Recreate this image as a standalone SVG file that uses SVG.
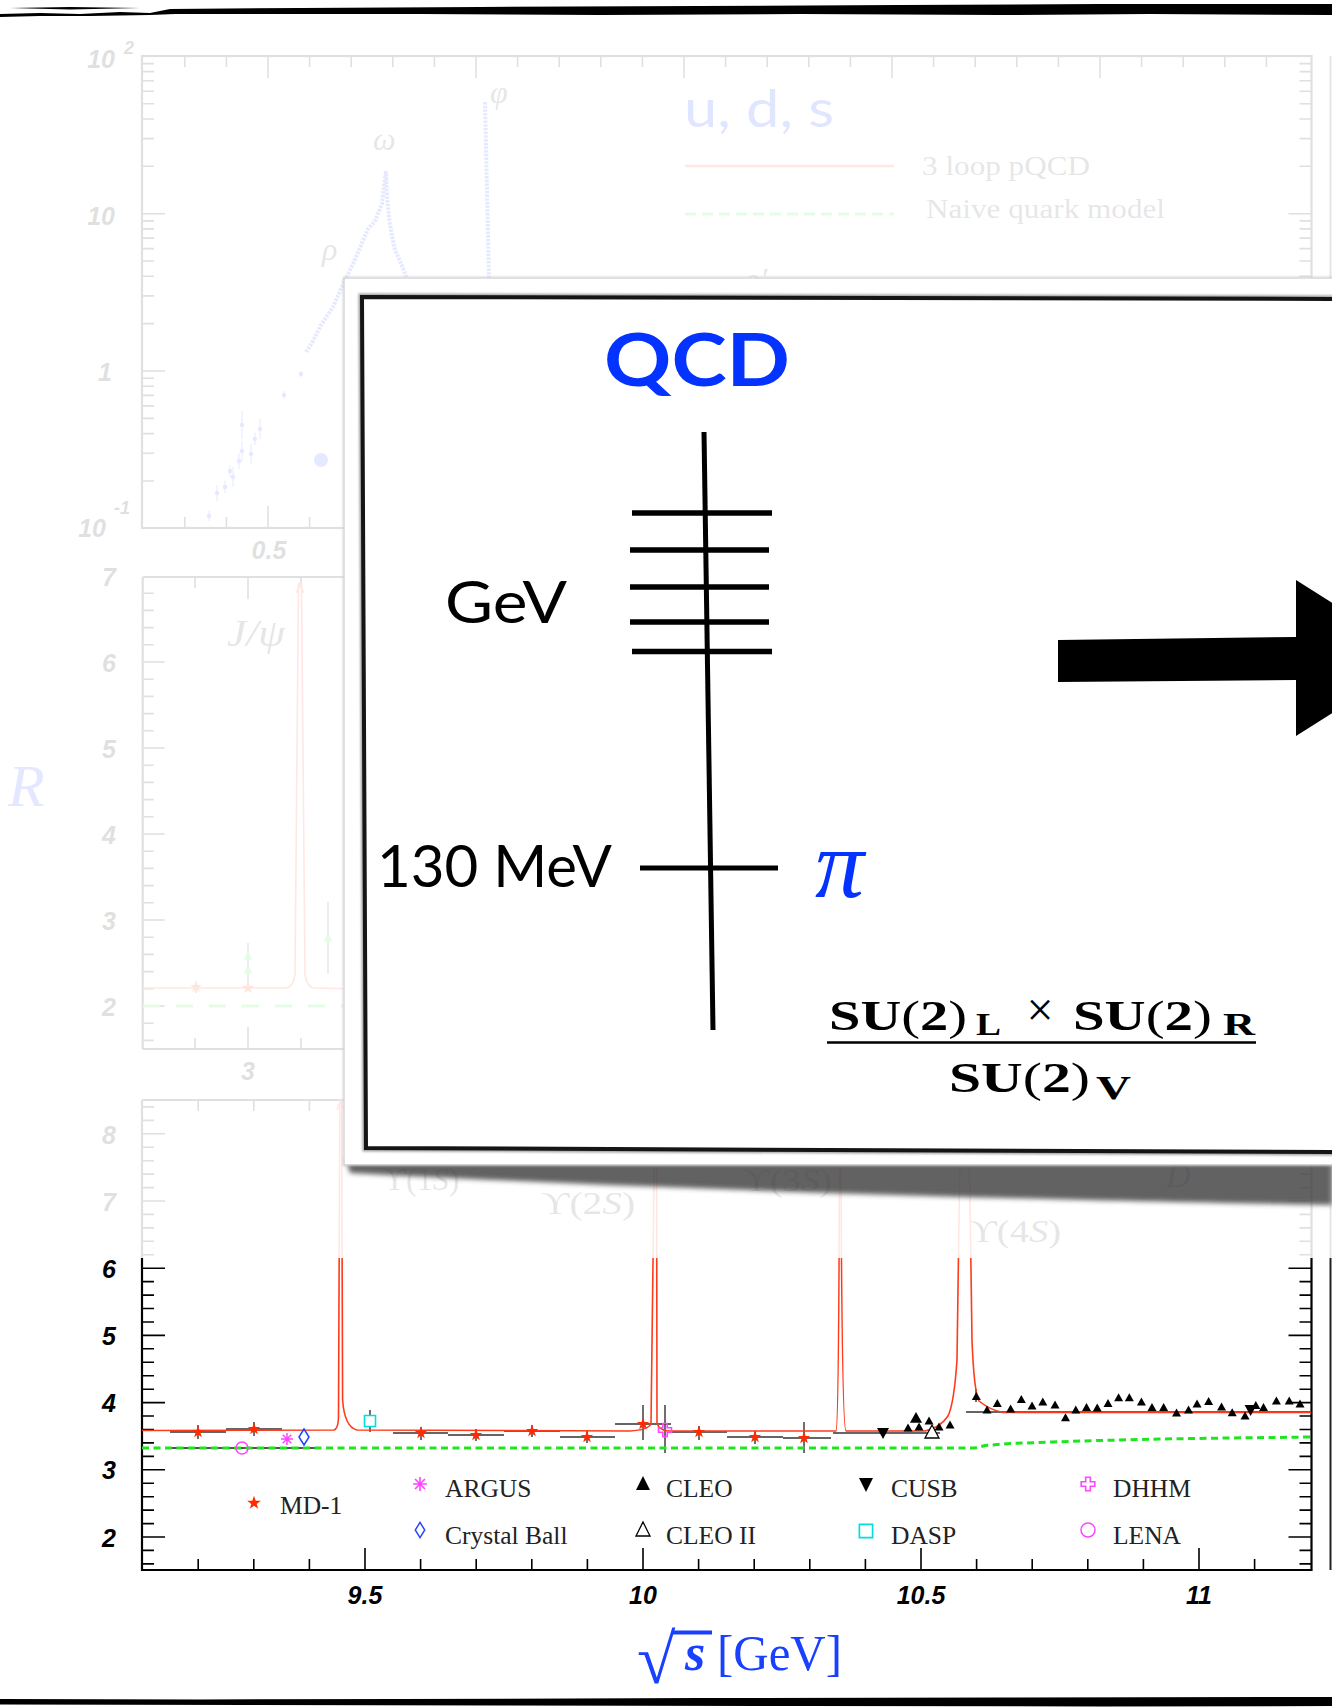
<svg xmlns="http://www.w3.org/2000/svg" width="1332" height="1708" viewBox="0 0 1332 1708">
<style>
.ax{stroke:#000;stroke-width:2.2;fill:none}
.tk{stroke:#000;stroke-width:1.6;fill:none}
.lbl{font-family:"Liberation Sans",Arial,sans-serif;font-weight:bold;font-style:italic;font-size:25px;fill:#000}
.leg{font-family:"Liberation Serif","Times New Roman",serif;font-size:25.5px;fill:#222}
.cm{font-family:"Liberation Serif","DejaVu Serif","Times New Roman",serif}
.gill{font-family:Lato,"Open Sans",sans-serif}
.red{stroke:#ff3a1a;stroke-width:1.6;fill:none}
.eb{stroke:#333;stroke-width:1.4;fill:none}
.blk{stroke:#000;fill:none;stroke-linecap:butt}
</style>
<defs>
<path id="st" d="M0,-6.5L1.53,-2.1L6.18,-2.01L2.47,0.8L3.82,5.26L0,2.6L-3.82,5.26L-2.47,0.8L-6.18,-2.01L-1.53,-2.1Z"/>
<path id="tu" d="M0,-4.5L4.5,3.5H-4.5Z"/>
<path id="td" d="M-6,-5H6L0,6Z"/>
<path id="as" d="M-6,0H6M0,-6V6M-4.3,-4.3L4.3,4.3M-4.3,4.3L4.3,-4.3"/>
<path id="di" d="M0,-8L5,0L0,8L-5,0Z"/>
<path id="sq" d="M-5.5,-5.5h11v11h-11Z"/>
<path id="cr" d="M-2.2,-6.5H2.2V-2.2H6.5V2.2H2.2V6.5H-2.2V2.2H-6.5V-2.2H-2.2Z"/>
<filter id="blur" x="-5%" y="-50%" width="110%" height="200%"><feGaussianBlur stdDeviation="2.5"/></filter>
<filter id="soft" x="-2%" y="-2%" width="104%" height="104%"><feGaussianBlur stdDeviation="1.2"/></filter>
</defs>
<rect x="0" y="0" width="1332" height="1708" fill="#fff"/>

<!-- ============ background chart ============ -->
<g id="chart-top">
<rect class="ax" x="142" y="56" width="1169.5" height="472" stroke-width="2"/>
<path class="tk" d="M268 56v22M476 56v22M684 56v22M892 56v22M1100 56v22M184.8 56v11M226.4 56v11M309.6 56v11M351.2 56v11M392.8 56v11M434.4 56v11M517.6 56v11M559.2 56v11M600.8 56v11M642.4 56v11M725.6 56v11M767.2 56v11M808.8 56v11M850.4 56v11M933.6 56v11M975.2 56v11M1016.8 56v11M1058.4 56v11M1141.6 56v11M1183.2 56v11M1224.8 56v11M1266.4 56v11"/>
<path class="tk" d="M268 528v-22M476 528v-22M184.8 528v-11M226.4 528v-11M309.6 528v-11M351.2 528v-11"/>
<path class="tk" d="M142 371h23M142 213.7h23M142 481h12M142 453.2h12M142 433.6h12M142 418.4h12M142 405.9h12M142 395.4h12M142 386.2h12M142 378.2h12M142 323.6h12M142 295.9h12M142 276.3h12M142 261h12M142 248.6h12M142 238.1h12M142 228.9h12M142 220.9h12M142 166.3h12M142 138.6h12M142 119h12M142 103.7h12M142 91.3h12M142 80.7h12M142 71.6h12M142 63.6h12"/>
<path class="tk" d="M1311.5 371h-23M1311.5 213.7h-23M1311.5 166.3h-12M1311.5 138.6h-12M1311.5 119h-12M1311.5 103.7h-12M1311.5 91.3h-12M1311.5 80.7h-12M1311.5 71.6h-12M1311.5 63.6h-12M1311.5 220.9h-12M1311.5 228.9h-12M1311.5 238.1h-12M1311.5 248.6h-12M1311.5 261h-12M1311.5 276.3h-12"/>
<text class="lbl" x="115" y="68" text-anchor="end">10</text>
<text class="lbl" x="124" y="54" style="font-size:18px">2</text>
<text class="lbl" x="115" y="225" text-anchor="end">10</text>
<text class="lbl" x="112" y="381" text-anchor="end">1</text>
<text class="lbl" x="106" y="537" text-anchor="end">10</text>
<text class="lbl" x="114" y="514" style="font-size:18px">-1</text>
<text class="lbl" x="269" y="559" text-anchor="middle">0.5</text>
<g fill="#2a4cff" stroke="#2a4cff">
<polyline points="306,352 312,343 321,325 333,307 344,282 353,264 362,243 368,229 375,221 382,204 384,186 386,171 387,196 389,218 392,236 395,250 400,261 404,271 407,279" fill="none" stroke-width="4" stroke-dasharray="2.5 1.2"/>
<path d="M485,102L489,279" fill="none" stroke-width="4" stroke-dasharray="2.5 1.2"/>
<g stroke-width="1">
<path d="M209 511v10M217 485v16M225 481v12M230 465v12M233 467v20M239 453v16M242 441v20M242 411v28M251 444v20M255 433v12M260 419v20M284 391v8M301 371v6" fill="none"/>
</g>
<g stroke="none">
<circle cx="209" cy="516" r="2.2"/><circle cx="217" cy="493" r="2.2"/><circle cx="225" cy="487" r="2.2"/><circle cx="230" cy="471" r="2.2"/><circle cx="233" cy="477" r="2.2"/><circle cx="239" cy="461" r="2.2"/><circle cx="242" cy="451" r="2.2"/><circle cx="242" cy="425" r="2.2"/><circle cx="251" cy="454" r="2.2"/><circle cx="255" cy="439" r="2.2"/><circle cx="260" cy="429" r="2.2"/><circle cx="284" cy="395" r="2.2"/><circle cx="301" cy="374" r="2.2"/>
<circle cx="321" cy="460" r="7"/>
</g>
</g>
<text class="cm" x="322" y="260" font-style="italic" font-size="32" fill="#333">ρ</text>
<text class="cm" x="373" y="150" font-style="italic" font-size="32" fill="#333">ω</text>
<text class="cm" x="490" y="103" font-style="italic" font-size="32" fill="#333">φ</text>
<text class="cm" x="745" y="290" font-style="italic" font-size="32" fill="#333">ρ′</text>
<text class="gill" x="684" y="127" font-size="52" fill="#0033ff" textLength="150" lengthAdjust="spacingAndGlyphs">u, d, s</text>
<path d="M685 166H894" stroke="#ff3a1a" stroke-width="2.5"/>
<path d="M685 214H894" stroke="#1ee61e" stroke-width="3" stroke-dasharray="11 6"/>
<text class="cm" x="922" y="175" font-size="28" fill="#333" textLength="168" lengthAdjust="spacingAndGlyphs">3 loop pQCD</text>
<text class="cm" x="926" y="218" font-size="28" fill="#333" textLength="239" lengthAdjust="spacingAndGlyphs">Naive quark model</text>
</g>

<g id="chart-middle">
<path class="ax" d="M142.7 577V1049M142.7 577H1311.5M142.7 1049H1311.5" stroke-width="2"/>
<path class="tk" d="M142.7 1006h22M142.7 920h22M142.7 834h22M142.7 748h22M142.7 662h22M142.7 1040.4h11M142.7 1023.2h11M142.7 988.8h11M142.7 971.6h11M142.7 954.4h11M142.7 937.2h11M142.7 902.8h11M142.7 885.6h11M142.7 868.4h11M142.7 851.2h11M142.7 816.8h11M142.7 799.6h11M142.7 782.4h11M142.7 765.2h11M142.7 730.8h11M142.7 713.6h11M142.7 696.4h11M142.7 679.2h11M142.7 644.8h11M142.7 627.6h11M142.7 610.4h11M142.7 593.2h11"/>
<path class="tk" d="M248 1049v-22M195 1049v-11M301 1049v-11M248 577v22M195 577v11M301 577v11"/>
<text class="lbl" x="116" y="586" text-anchor="end">7</text>
<text class="lbl" x="116" y="672" text-anchor="end">6</text>
<text class="lbl" x="116" y="758" text-anchor="end">5</text>
<text class="lbl" x="116" y="844" text-anchor="end">4</text>
<text class="lbl" x="116" y="930" text-anchor="end">3</text>
<text class="lbl" x="116" y="1016" text-anchor="end">2</text>
<text class="lbl" x="248" y="1080" text-anchor="middle">3</text>
<path d="M143 1006H360" stroke="#1ee61e" stroke-width="3" stroke-dasharray="17 16"/>
<path class="red" d="M143 988L286 988Q293 987 295 975L298.5 584L301.5 584L305 975Q307 987 314 988L360 989"/>
<path class="red" d="M296.5 593L300 583L303.5 593"/>
<path class="eb" d="M248 943V990M328 902V974M196 982V993"/>
<use href="#st" x="196" y="987" fill="#ff2a00"/>
<use href="#st" x="248" y="988" fill="#ff2a00"/>
<use href="#tu" x="248" y="956" fill="#1ee61e"/>
<use href="#tu" x="248" y="970" fill="#1ee61e"/>
<use href="#tu" x="328" y="938" fill="#1ee61e"/>
<text class="cm" x="227" y="646" font-style="italic" font-size="38" fill="#333" textLength="58" lengthAdjust="spacingAndGlyphs">J/ψ</text>
</g>

<g id="chart-bottom">
<path class="ax" d="M142 1100V1570H1311.5V1100H142" stroke-width="2.5"/>
<path class="tk" d="M142 1537h23M142 1469.8h23M142 1402.6h23M142 1335.4h23M142 1268.2h23M142 1201h23M142 1133.8h23M142 1563.9h12M142 1550.4h12M142 1523.6h12M142 1510.1h12M142 1496.7h12M142 1483.2h12M142 1456.4h12M142 1442.9h12M142 1429.5h12M142 1416h12M142 1389.2h12M142 1375.7h12M142 1362.3h12M142 1348.8h12M142 1322h12M142 1308.5h12M142 1295.1h12M142 1281.6h12M142 1254.8h12M142 1241.3h12M142 1227.9h12M142 1214.4h12M142 1187.6h12M142 1174.1h12M142 1160.7h12M142 1147.2h12M142 1120.4h12M142 1106.9h12"/>
<path class="tk" d="M1311.5 1537h-23M1311.5 1469.8h-23M1311.5 1402.6h-23M1311.5 1335.4h-23M1311.5 1268.2h-23M1311.5 1201h-23M1311.5 1133.8h-23M1311.5 1563.9h-12M1311.5 1550.4h-12M1311.5 1523.6h-12M1311.5 1510.1h-12M1311.5 1496.7h-12M1311.5 1483.2h-12M1311.5 1456.4h-12M1311.5 1442.9h-12M1311.5 1429.5h-12M1311.5 1416h-12M1311.5 1389.2h-12M1311.5 1375.7h-12M1311.5 1362.3h-12M1311.5 1348.8h-12M1311.5 1322h-12M1311.5 1308.5h-12M1311.5 1295.1h-12M1311.5 1281.6h-12M1311.5 1254.8h-12M1311.5 1241.3h-12M1311.5 1227.9h-12M1311.5 1214.4h-12M1311.5 1187.6h-12M1311.5 1174.1h-12M1311.5 1160.7h-12M1311.5 1147.2h-12M1311.5 1120.4h-12M1311.5 1106.9h-12"/>
<path class="tk" d="M365 1570v-22M643 1570v-22M921 1570v-22M1199 1570v-22M198.2 1570v-11M253.8 1570v-11M309.4 1570v-11M420.6 1570v-11M476.2 1570v-11M531.8 1570v-11M587.4 1570v-11M698.6 1570v-11M754.2 1570v-11M809.8 1570v-11M865.4 1570v-11M976.6 1570v-11M1032.2 1570v-11M1087.8 1570v-11M1143.4 1570v-11M1254.6 1570v-11"/>
<path class="tk" d="M365 1100v22M643 1100v22M921 1100v22M1199 1100v22M198.2 1100v11M253.8 1100v11M309.4 1100v11M420.6 1100v11M476.2 1100v11M531.8 1100v11M587.4 1100v11M698.6 1100v11M754.2 1100v11M809.8 1100v11M865.4 1100v11M976.6 1100v11M1032.2 1100v11M1087.8 1100v11M1143.4 1100v11M1254.6 1100v11"/>
<text class="lbl" x="116" y="1143.5" text-anchor="end">8</text>
<text class="lbl" x="116" y="1210.5" text-anchor="end">7</text>
<text class="lbl" x="116" y="1277.7" text-anchor="end">6</text>
<text class="lbl" x="116" y="1345" text-anchor="end">5</text>
<text class="lbl" x="116" y="1412" text-anchor="end">4</text>
<text class="lbl" x="116" y="1479.3" text-anchor="end">3</text>
<text class="lbl" x="116" y="1546.5" text-anchor="end">2</text>
<text class="lbl" x="365" y="1604" text-anchor="middle">9.5</text>
<text class="lbl" x="643" y="1604" text-anchor="middle">10</text>
<text class="lbl" x="921" y="1604" text-anchor="middle">10.5</text>
<text class="lbl" x="1199" y="1604" text-anchor="middle">11</text>
<!-- upsilon labels -->
<g class="cm" font-size="32" fill="#333">
<text x="383" y="1190">ϒ(1<tspan font-style="italic">S</tspan>)</text>
<text x="541" y="1214" textLength="94" lengthAdjust="spacingAndGlyphs">ϒ(2<tspan font-style="italic">S</tspan>)</text>
<text x="743" y="1191" textLength="89" lengthAdjust="spacingAndGlyphs">ϒ(3<tspan font-style="italic">S</tspan>)</text>
<text x="969" y="1242" textLength="92" lengthAdjust="spacingAndGlyphs">ϒ(4<tspan font-style="italic">S</tspan>)</text>
</g>
<text class="cm" x="1166" y="1187" font-size="34" font-style="italic" fill="#1122aa">D</text>
<!-- error bars -->
<path d="M170 1448H315" stroke="#555" stroke-width="2"/>
<path class="eb" d="M170 1432H226M226 1429H282M393 1433H448M448 1435H504M504 1431H560M560 1437H615M615 1424H671M671 1432H727M727 1437H783M783 1438H831M833 1433H940M966 1412H1311.5"/>
<path class="eb" d="M198 1425V1439M254 1422V1436M421 1427V1440M476 1429V1441M532 1425V1437M587 1431V1443M643 1405V1440M665 1405V1453M699 1426V1440M755 1431V1444M804 1422V1453M370 1410V1432M976 1389V1402"/>
<!-- green naive -->
<polyline points="142,1448 975,1448 985,1445.5 1010,1443.5 1052,1442 1100,1440.5 1160,1439 1230,1438 1311,1437" fill="none" stroke="#1ee61e" stroke-width="3" stroke-dasharray="7 4.5"/>
<!-- red pQCD -->
<path class="red" d="M142 1430.5L334 1430Q338 1429 338.5 1418L339.8 1101L341.6 1101L342.6 1400Q344.5 1427 357 1430L630 1431Q648 1430 651 1424L655 1101L656.5 1101L657 1423Q659 1430 668 1431L836 1431Q839 1430 839.6 1101L840.8 1101Q841.5 1430 846 1431L925 1431Q940 1428 948 1416Q954 1404 957 1360L960.7 1101L968.6 1101L972 1340Q974 1392 979 1401Q990 1410 1003 1412.5L1311 1412.5"/>
<path class="red" d="M337 1110L340.7 1100L344.4 1110M652.5 1110L655.8 1100L659.1 1110M837 1110L840.2 1100L843.4 1110M961.3 1110L964.6 1100L967.9 1110"/>
<!-- data markers -->
<g fill="#ff2a00">
<use href="#st" x="198" y="1432"/><use href="#st" x="254" y="1429"/><use href="#st" x="421" y="1433"/><use href="#st" x="476" y="1435"/><use href="#st" x="532" y="1431"/><use href="#st" x="587" y="1437"/><use href="#st" x="643" y="1424"/><use href="#st" x="699" y="1432"/><use href="#st" x="755" y="1437"/><use href="#st" x="804" y="1438"/>
</g>
<circle cx="242" cy="1448" r="6" fill="none" stroke="#ff44ff" stroke-width="1.5"/>
<use href="#as" x="287" y="1439" stroke="#ff44ff" stroke-width="1.5"/>
<use href="#di" x="304" y="1437" fill="none" stroke="#2244ff" stroke-width="1.5"/>
<use href="#sq" x="370" y="1421" fill="#fff" stroke="#00dede" stroke-width="1.6"/>
<use href="#cr" x="665" y="1430" fill="none" stroke="#ff44ff" stroke-width="1.6"/>
<use href="#td" x="883" y="1433" fill="#000"/>
<use href="#td" x="1250.6" y="1410" fill="#000"/>
<path d="M932,1425L939,1438H925Z" fill="#fff" stroke="#000" stroke-width="1.3"/>
<g fill="#000">
<use href="#tu" x="908" y="1428"/><use href="#tu" transform="translate(916 1418) scale(1.35)"/><use href="#tu" x="919" y="1427"/><use href="#tu" x="929" y="1421"/><use href="#tu" x="939" y="1427"/><use href="#tu" x="950" y="1425"/>
<use href="#tu" x="976.3" y="1396.5"/><use href="#tu" x="987" y="1410"/><use href="#tu" x="997.3" y="1403.5"/><use href="#tu" x="1010.6" y="1409"/><use href="#tu" x="1021.3" y="1399.6"/><use href="#tu" x="1032" y="1406"/><use href="#tu" x="1042.8" y="1402"/><use href="#tu" x="1055" y="1405"/><use href="#tu" x="1065.5" y="1417.8"/><use href="#tu" x="1075.8" y="1410"/><use href="#tu" x="1086.5" y="1407.4"/><use href="#tu" x="1097.2" y="1408"/><use href="#tu" x="1108" y="1403.5"/><use href="#tu" x="1118.6" y="1397.7"/><use href="#tu" x="1129.3" y="1397.7"/><use href="#tu" x="1141.4" y="1402"/><use href="#tu" x="1152" y="1407.4"/><use href="#tu" x="1163.6" y="1407.4"/><use href="#tu" x="1176.5" y="1413"/><use href="#tu" x="1188.5" y="1410"/><use href="#tu" x="1197" y="1404"/><use href="#tu" x="1208.6" y="1401.6"/><use href="#tu" x="1221.5" y="1407"/><use href="#tu" x="1232.2" y="1412.8"/><use href="#tu" x="1245" y="1416"/><use href="#tu" x="1255.8" y="1405.4"/><use href="#tu" x="1263.5" y="1407.4"/><use href="#tu" x="1276.4" y="1401"/><use href="#tu" x="1289.2" y="1401"/><use href="#tu" x="1300" y="1404"/>
</g>
<!-- legend -->
<g id="legend">
<use href="#st" transform="translate(254 1503) scale(1.1)" fill="#ff2a00"/>
<text class="leg" x="280" y="1514">MD-1</text>
<use href="#as" transform="translate(420 1484) scale(1.15)" stroke="#ff44ff" stroke-width="1.4"/>
<text class="leg" x="445" y="1497">ARGUS</text>
<use href="#di" transform="translate(420 1530) scale(0.95)" fill="none" stroke="#2244ff" stroke-width="1.5"/>
<text class="leg" x="445" y="1544">Crystal Ball</text>
<path d="M643,1476L650,1490H636Z" fill="#000"/>
<text class="leg" x="666" y="1497">CLEO</text>
<path d="M643,1522L650,1536H636Z" fill="none" stroke="#000" stroke-width="1.3"/>
<text class="leg" x="666" y="1544">CLEO II</text>
<path d="M859,1478H873L866,1492Z" fill="#000"/>
<text class="leg" x="891" y="1497">CUSB</text>
<use href="#sq" transform="translate(866 1531) scale(1.2)" fill="none" stroke="#00dede" stroke-width="1.4"/>
<text class="leg" x="891" y="1544">DASP</text>
<use href="#cr" transform="translate(1088 1484) scale(1.05)" fill="none" stroke="#ff44ff" stroke-width="1.5"/>
<text class="leg" x="1113" y="1497">DHHM</text>
<circle cx="1088" cy="1530" r="7" fill="none" stroke="#ff44ff" stroke-width="1.5"/>
<text class="leg" x="1113" y="1544">LENA</text>
</g>
<!-- axis title -->
<g id="xtitle" fill="#1a40ff">
<text class="cm" x="637" y="1683" font-size="70" font-weight="bold">√</text>
<path d="M672 1632.5H712" stroke="#1a40ff" stroke-width="4"/>
<text class="cm" x="685" y="1670" font-size="52" font-weight="bold" font-style="italic">s</text>
<text class="cm" x="717" y="1670" font-size="50" textLength="125" lengthAdjust="spacingAndGlyphs">[GeV]</text>
</g>
</g>
<text class="cm" x="8" y="806" font-size="60" font-style="italic" fill="#1a3cff">R</text>
<path d="M1330.5 56V1570" stroke="#222" stroke-width="2"/>

<!-- fade overlay -->
<rect x="0" y="18" width="1332" height="1240" fill="#fff" opacity="0.88"/>

<!-- ============ foreground box ============ -->
<g id="box">
<path d="M346,1158L1332,1158L1332,1205C1150,1202 750,1194 350,1173Z" fill="#3a3a3a" opacity="0.8" filter="url(#blur)"/>
<rect x="344" y="278" width="1000" height="887" fill="#fff" stroke="#c8c8c8" stroke-width="2" filter="url(#soft)"/>
<rect x="345" y="279" width="998" height="885" fill="#fff"/>
<path d="M362,297L1340,299L1340,1152L366,1148Z" fill="#fff" stroke="#777" stroke-width="7" filter="url(#soft)" opacity="0.7"/>
<path d="M362,297L1340,299L1340,1152L366,1148Z" fill="#fff" stroke="#151515" stroke-width="4"/>
</g>
<g id="qcd-label"><text class="gill" x="604" y="386" font-size="72" font-weight="bold" fill="#0433ff" textLength="186" lengthAdjust="spacingAndGlyphs">QCD</text></g>
<g id="scale-axis">
<path class="blk" d="M704 432L713 1030" stroke-width="5"/>
<path class="blk" d="M632 513H772M630 550H769M630 587H769M630 622H769M632 651.5H772" stroke-width="5.5"/>
<path class="blk" d="M640 868H778" stroke-width="5"/>
</g>
<g id="gev-label"><text class="gill" x="445" y="623" font-size="59" fill="#000" textLength="122" lengthAdjust="spacingAndGlyphs">GeV</text></g>
<g id="mev-label"><text class="gill" x="377" y="887" font-size="59" fill="#000" textLength="235" lengthAdjust="spacingAndGlyphs">130 MeV</text></g>
<g id="pion-label"><text class="cm" x="815" y="897" font-size="98" font-style="italic" fill="#0433ff">π</text></g>
<g id="coset" class="cm" font-weight="bold" fill="#000">
<text x="829" y="1030" font-size="43" textLength="138" lengthAdjust="spacingAndGlyphs">SU<tspan font-weight="normal">(</tspan>2<tspan font-weight="normal">)</tspan></text>
<text x="976" y="1035" font-size="31" textLength="25" lengthAdjust="spacingAndGlyphs">L</text>
<text x="1040" y="1026" font-size="48" font-weight="normal" text-anchor="middle">×</text>
<text x="1073" y="1030" font-size="43" textLength="139" lengthAdjust="spacingAndGlyphs">SU<tspan font-weight="normal">(</tspan>2<tspan font-weight="normal">)</tspan></text>
<text x="1223" y="1035" font-size="31" textLength="32" lengthAdjust="spacingAndGlyphs">R</text>
<path d="M827 1042.5H1256" stroke="#000" stroke-width="2.5"/>
<text x="949" y="1092" font-size="43" textLength="141" lengthAdjust="spacingAndGlyphs">SU<tspan font-weight="normal">(</tspan>2<tspan font-weight="normal">)</tspan></text>
<text x="1096" y="1099" font-size="33" textLength="35" lengthAdjust="spacingAndGlyphs">V</text>
</g>
<g id="connectors">
<path d="M1058,640L1296,637L1296,580L1420,658L1296,736L1296,680L1058,682Z" fill="#000"/>
</g>

<!-- brush strokes -->
<g id="frame-strokes" fill="#000">
<path d="M0,14L40,13L80,14L120,12L150,13L170,9L300,8L480,7L700,6L900,5L1100,4L1332,4L1332,15L1150,14L1000,15L800,14L600,15L420,14L260,14L175,14L150,15L90,16L40,16L0,17Z"/>
<path d="M10,8L70,7L140,8L70,9.5Z"/>
<path d="M0,1699L200,1699.5L400,1699L700,1698L1000,1697.5L1332,1697L1332,1706L1100,1706.5L800,1706L500,1705.5L250,1705L0,1704.5Z"/>
</g>
</svg>
